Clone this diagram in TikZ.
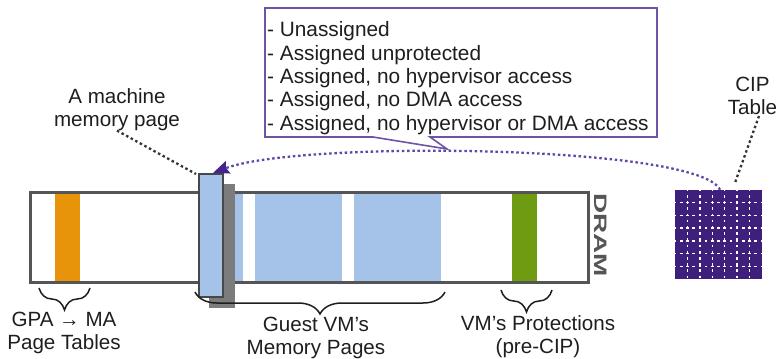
\documentclass[tikz,border=0pt]{standalone}
\usepackage{fontspec}
\setmainfont{Liberation Sans}
\usetikzlibrary{arrows.meta,decorations.pathreplacing,calc}
\definecolor{cpurple}{HTML}{3F1F7C}
\definecolor{boxpurple}{HTML}{6D54A8}
\definecolor{arcpurple}{HTML}{6247A8}
\definecolor{arrowpurple}{HTML}{45238E}
\definecolor{pageblue}{HTML}{A5C3E8}
\definecolor{orangebar}{HTML}{E8940A}
\definecolor{greenbar}{HTML}{6E9B12}
\definecolor{dramgray}{HTML}{555555}
\definecolor{shadowgray}{HTML}{7C7C7C}
\definecolor{txt}{HTML}{1E1E1E}
\begin{document}
\begin{tikzpicture}[x=1pt,y=-1pt,
  lbl/.style={font=\fontsize{20.6}{23}\selectfont, text=txt, inner sep=0pt, align=center},
  dotline/.style={draw=#1, line width=2.3pt, dash pattern=on 2.5pt off 2.7pt},
  bracedeco/.style={draw=txt, line width=1.5pt, decorate, decoration={brace, mirror, amplitude=22pt}},
  gridline/.style={draw=white, line width=1.3pt, dash pattern=on 2.6pt off 3.6pt, dash phase=1.3pt}
]
\useasboundingbox (0,0) rectangle (780,359);

% DRAM strip
\node[draw=dramgray, line width=3pt, fill=white, minimum width=558pt, minimum height=90pt, inner sep=0pt] (dram) at (309,237) {};
\fill[orangebar] (55,193.5) rectangle (80,280.5);
\fill[pageblue] (225,193.5) rectangle (243,280.5);
\fill[pageblue] (255,193.5) rectangle (342,280.5);
\fill[pageblue] (354,193.5) rectangle (441,280.5);
\fill[greenbar] (512,193.5) rectangle (537,280.5);
\node[rotate=-90, text=dramgray, inner sep=0pt, font=\fontsize{18}{18}\selectfont\bfseries] (dramlbl) at (601,235) {\scalebox{1.55}[1]{DRAM}};

% machine memory page with shadow
\fill[shadowgray] (209,184) rectangle (235,308);
\node[draw=dramgray!85!black, line width=2pt, fill=pageblue, minimum width=24pt, minimum height=123pt, inner sep=0pt] (page) at (211,235.5) {};

% CIP table
\node[fill=cpurple, minimum width=87pt, minimum height=89pt, inner sep=0pt] (cip) at (718.5,234.5) {};
\foreach \k in {1,...,6} {
  \draw[gridline] ({675+87*\k/7},190) -- ({675+87*\k/7},279);
  \draw[gridline] (675,{190+89*\k/7}) -- (762,{190+89*\k/7});
}

% labels
\node[lbl, anchor=north] (mlabel) at (117,88) {A machine\\memory page};
\node[lbl, anchor=north] (cipl) at (752.5,77) {CIP\\Table};
\node[lbl, anchor=north] (gpal) at (64,312) {GPA → MA\\Page Tables};
\node[lbl, anchor=north] (guestl) at (316,317) {Guest VM's\\Memory Pages};
\node[lbl, anchor=north] (protl) at (538,315) {VM's Protections\\(pre-CIP)};

% braces
\draw[bracedeco] (39,288) -- (90,288);
\draw[bracedeco] (195,292) -- (445,292);
\draw[bracedeco] (501,290) -- (552,290);

% dotted pointers
\draw[dotline=txt!90] (mlabel.south) -- ([xshift=-2pt,yshift=-1pt]page.north west);
\draw[dotline=txt!90] ([xshift=6.5pt,yshift=-1pt]cipl.south) -- ([xshift=16.5pt,yshift=7pt]cip.north);

% purple arc from CIP table to the page
\coordinate (arcstart) at ([xshift=1.5pt]cip.north);
\coordinate (arcend) at ([xshift=2pt]page.north);
\draw[dotline=arcpurple, -{Stealth[length=16pt,width=13pt,color=arrowpurple,inset=2pt]}]
  (arcstart) .. controls (700,145) and (300,140) .. (arcend);

% callout box
\coordinate (tip) at (447,149);
\draw[boxpurple, line width=1.6pt, fill=white, line join=miter]
  (265,8) -- (657,8) -- (657,137) -- (430,137) -- (tip) -- (373,137) -- (265,137) -- cycle;
\node[font=\fontsize{20.8}{23.4}\selectfont, text=txt, inner sep=0pt, align=left, anchor=north west] (states) at (267,21.5)
  {- Unassigned\\- Assigned unprotected\\- Assigned, no hypervisor access\\- Assigned, no DMA access\\- Assigned, no hypervisor or DMA access};
\end{tikzpicture}
\end{document}
